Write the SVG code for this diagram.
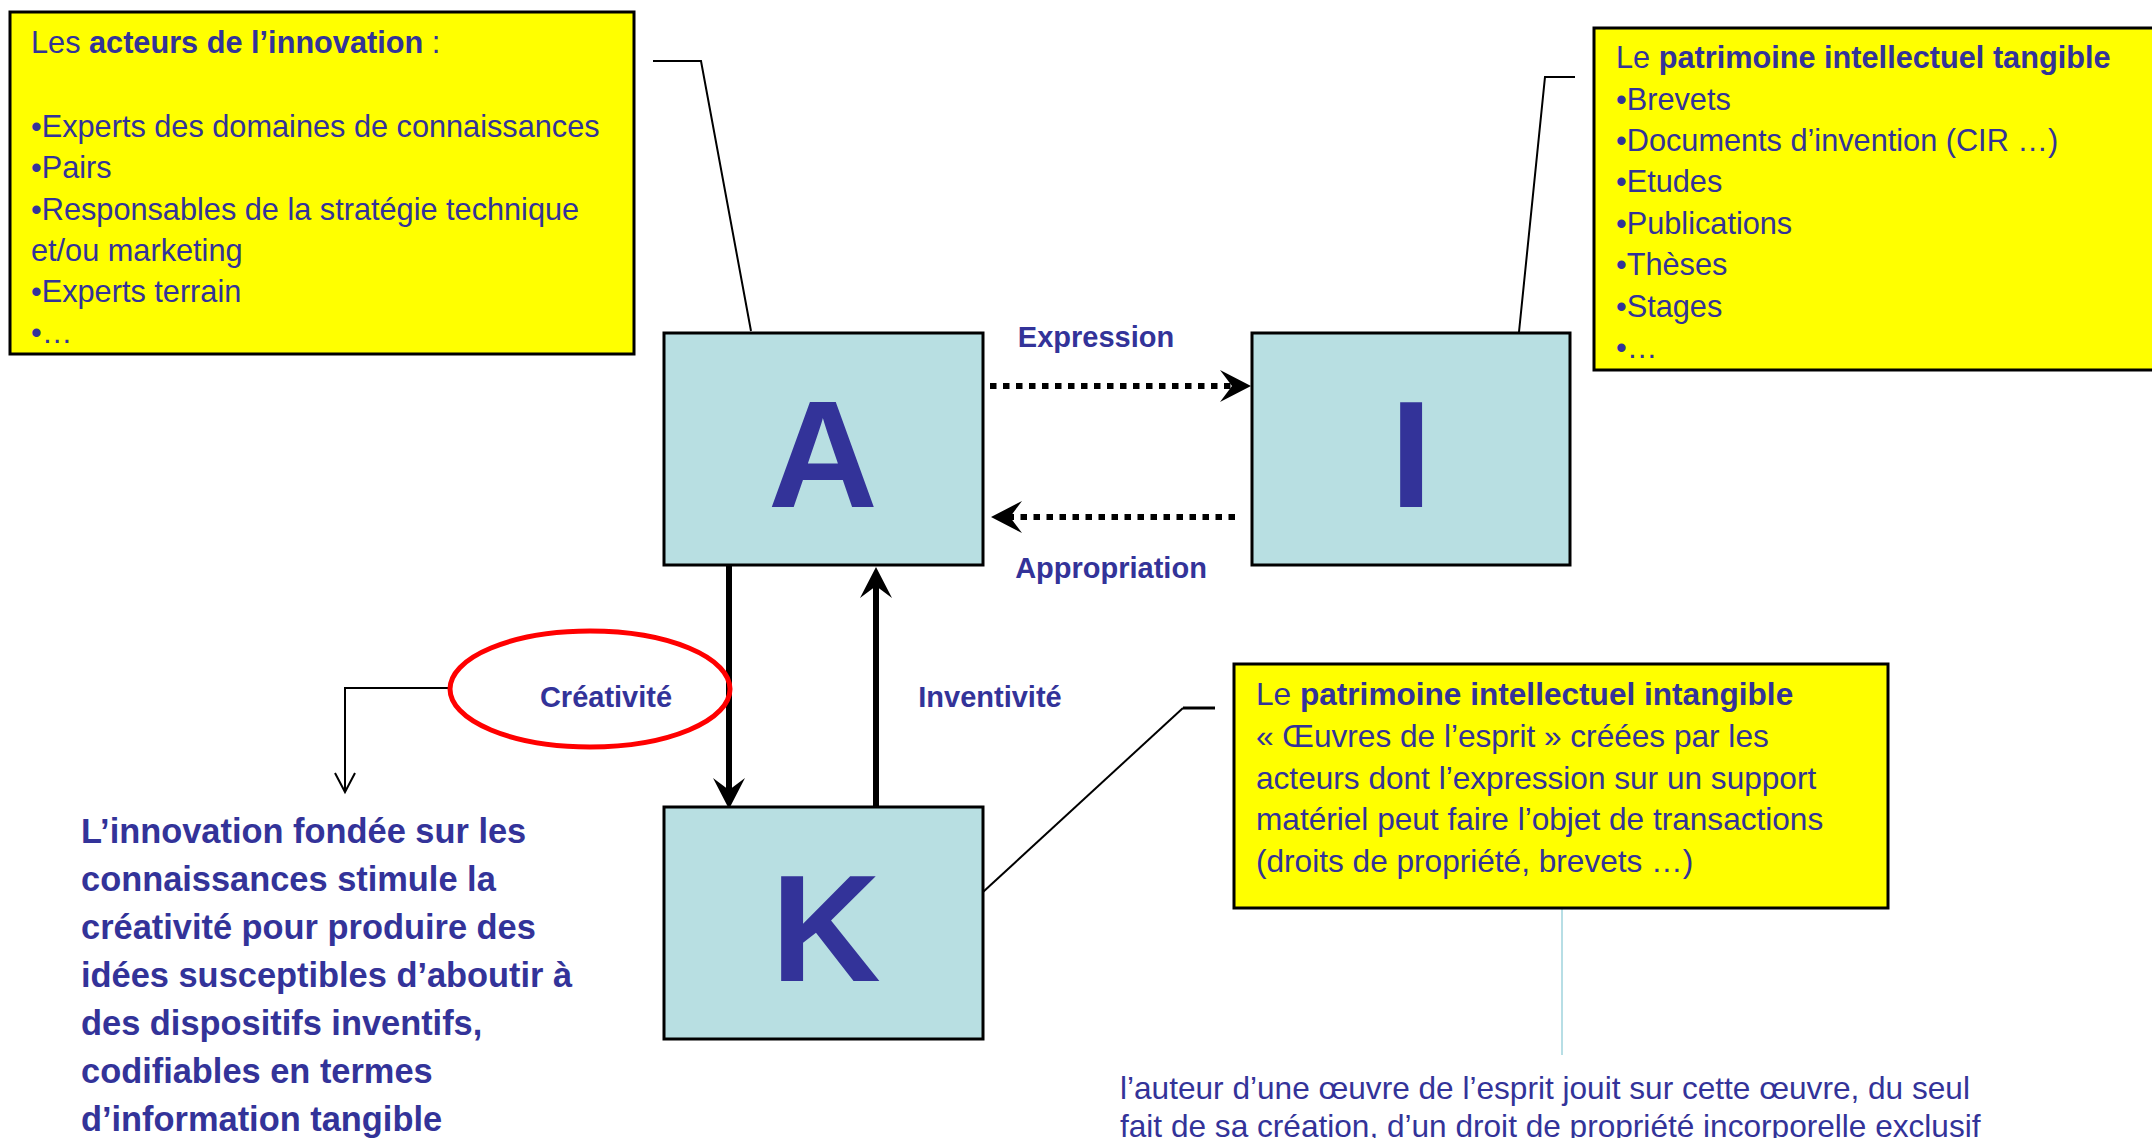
<svg xmlns="http://www.w3.org/2000/svg" width="2152" height="1138" viewBox="0 0 2152 1138">
<style>
text{font-family:"Liberation Sans",Arial,sans-serif;fill:#333399}
.note{fill:#FFFF00;stroke:#000;stroke-width:3}
.node{fill:#B8DFE2;stroke:#000;stroke-width:3}
.big{font-size:152px;font-weight:bold;text-anchor:middle}
.lbl{font-size:29px;font-weight:bold;text-anchor:middle}
.t31{font-size:30.7px}
.t32{font-size:31.6px}
.para{font-size:34.4px;font-weight:bold}
b,.b{font-weight:bold}
.lead{fill:none;stroke:#000;stroke-width:2}
.dot{fill:none;stroke:#000;stroke-width:6;stroke-dasharray:6.5 6.5}
.solid{fill:none;stroke:#000;stroke-width:6}
</style>
<defs>
<marker id="stealth" markerUnits="userSpaceOnUse" viewBox="0 0 31 32" markerWidth="31" markerHeight="32" refX="12" refY="16" orient="auto" overflow="visible">
<path d="M0,0 L31,16 L0,32 L12,16 Z" fill="#000"/>
</marker>
<marker id="openV" markerUnits="userSpaceOnUse" viewBox="0 0 20 20" markerWidth="20" markerHeight="20" refX="19" refY="10" orient="auto" overflow="visible">
<path d="M0,0 L19,10 L0,20" fill="none" stroke="#000" stroke-width="2"/>
</marker>
</defs>
<rect width="2152" height="1138" fill="#fff"/>

<g id="connectors">
<polyline class="lead" points="653,61 701,61 751,331"/>
<polyline class="lead" points="1575,77 1545,77 1519,332"/>
<polyline class="lead" points="983,892 1183,708"/>
<line x1="1183" y1="708" x2="1215" y2="708" stroke="#000" stroke-width="3"/>
<line x1="1562" y1="909" x2="1562" y2="1055" stroke="#9FD3DC" stroke-width="1.5"/>
<line class="dot" x1="990" y1="386" x2="1232" y2="386" marker-end="url(#stealth)"/>
<line class="dot" x1="1235" y1="517" x2="1010" y2="517" marker-end="url(#stealth)"/>
<line class="solid" x1="729" y1="566" x2="729" y2="790" marker-end="url(#stealth)"/>
<line class="solid" x1="876" y1="808" x2="876" y2="586" marker-end="url(#stealth)"/>
<path class="lead" d="M450,688 H345 V792" marker-end="url(#openV)"/>
<text class="lbl" x="1096" y="347">Expression</text>
<text class="lbl" x="1111" y="578">Appropriation</text>
<text class="lbl" x="990" y="707">Inventivité</text>
</g>

<g id="node-acteurs">
<rect class="note" x="10" y="12" width="624" height="342"/>
<text class="t31" x="31">
<tspan x="31" y="53">Les <tspan class="b">acteurs de l’innovation</tspan> :</tspan>
<tspan x="31" y="137">•Experts des domaines de connaissances</tspan>
<tspan x="31" y="178">•Pairs</tspan>
<tspan x="31" y="219.5">•Responsables de la stratégie technique</tspan>
<tspan x="31" y="260.5">et/ou marketing</tspan>
<tspan x="31" y="302">•Experts terrain</tspan>
<tspan x="31" y="343">•…</tspan>
</text>
</g>

<g id="node-tangible">
<rect class="note" x="1594" y="28" width="600" height="342"/>
<text class="t31">
<tspan x="1616" y="68">Le <tspan class="b">patrimoine intellectuel tangible</tspan></tspan>
<tspan x="1616" y="109.5">•Brevets</tspan>
<tspan x="1616" y="151">•Documents d’invention (CIR …)</tspan>
<tspan x="1616" y="192">•Etudes</tspan>
<tspan x="1616" y="233.5">•Publications</tspan>
<tspan x="1616" y="275">•Thèses</tspan>
<tspan x="1616" y="316.5">•Stages</tspan>
<tspan x="1616" y="358">•…</tspan>
</text>
</g>

<g id="node-A">
<rect class="node" x="664" y="333" width="319" height="232"/>
<text class="big" x="823" y="507">A</text>
</g>

<g id="node-I">
<rect class="node" x="1252" y="333" width="318" height="232"/>
<text class="big" x="1411" y="507">I</text>
</g>

<g id="node-K">
<rect class="node" x="664" y="807" width="319" height="232"/>
<text class="big" x="826" y="981">K</text>
</g>

<g id="node-creativite">
<ellipse cx="590" cy="689" rx="140" ry="58" fill="none" stroke="#FF0000" stroke-width="5"/>
<text class="lbl" x="606" y="707">Créativité</text>
</g>

<g id="node-intangible">
<rect class="note" x="1234" y="664" width="654" height="244"/>
<text class="t32">
<tspan x="1256" y="705">Le <tspan class="b">patrimoine intellectuel intangible</tspan></tspan>
<tspan x="1256" y="747">« Œuvres de l’esprit » créées par les</tspan>
<tspan x="1256" y="788.5">acteurs dont l’expression sur un support</tspan>
<tspan x="1256" y="830">matériel peut faire l’objet de transactions</tspan>
<tspan x="1256" y="872">(droits de propriété, brevets …)</tspan>
</text>
</g>

<g id="node-innovation-text">
<text class="para">
<tspan x="81" y="843">L’innovation fondée sur les</tspan>
<tspan x="81" y="891">connaissances stimule la</tspan>
<tspan x="81" y="939">créativité pour produire des</tspan>
<tspan x="81" y="987">idées susceptibles d’aboutir à</tspan>
<tspan x="81" y="1035">des dispositifs inventifs,</tspan>
<tspan x="81" y="1083">codifiables en termes</tspan>
<tspan x="81" y="1131">d’information tangible</tspan>
</text>
</g>

<g id="node-auteur-text">
<text class="t32">
<tspan x="1120" y="1099">l’auteur d’une œuvre de l’esprit jouit sur cette œuvre, du seul</tspan>
<tspan x="1120" y="1137">fait de sa création, d’un droit de propriété incorporelle exclusif</tspan>
</text>
</g>
</svg>
